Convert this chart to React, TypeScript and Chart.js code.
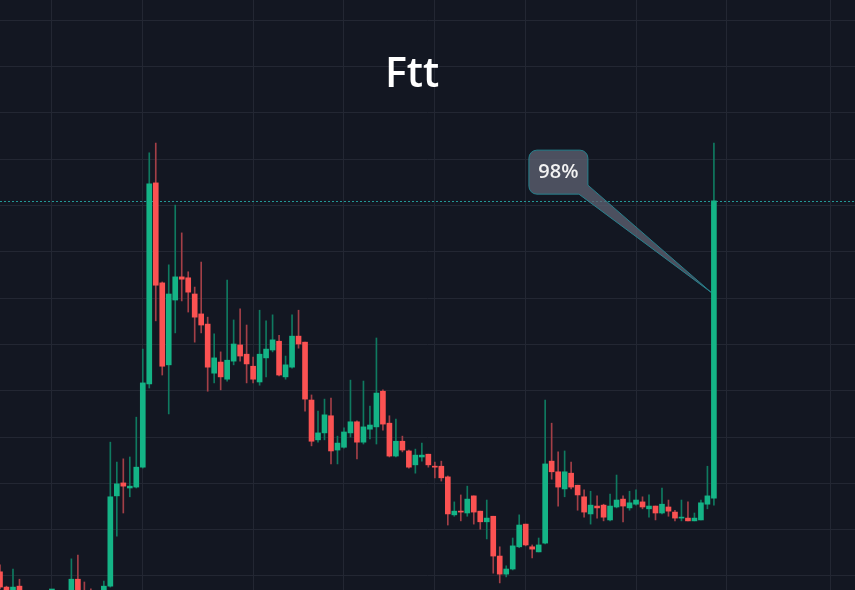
import React, { useEffect, useRef } from "react";
import { Chart, registerables } from "chart.js";

Chart.register(...registerables);

const title = "Ftt";
const calloutText = "98%";
const calloutPrice = 1.113;

// daily candles, index 0 = Dec 24
const gridDays = [8, 22, 39, 53, 67, 81, 98, 112, 128];
const gridDayLabels = ["Jan 1", "Jan 15", "Feb 1", "Feb 15", "Mar 1", "Mar 15", "Apr 1", "Apr 15", "May 1"];
const priceGrid = [0.5, 0.6, 0.7, 0.8, 0.9, 1.0, 1.1, 1.2, 1.3, 1.4, 1.5, 1.6, 1.7];

const opens = [
  0.509, 0.476, 0.450, 0.478, 0.450, 0.445, 0.440, 0.435, 0.430, 0.432,
  0.438, 0.445, 0.493, 0.462, 0.455, 0.448, 0.455, 0.478, 0.673, 0.701,
  0.690, 0.692, 0.735, 0.915, 1.349, 1.133, 0.956, 1.096, 1.146, 1.144,
  1.109, 1.066, 1.044, 0.938, 0.962, 0.925, 0.964, 0.999, 0.979, 0.953,
  0.919, 0.971, 0.988, 1.007, 0.930, 0.951, 1.018, 1.005, 0.880, 0.794,
  0.809, 0.846, 0.772, 0.778, 0.809, 0.833, 0.789, 0.817, 0.822, 0.899,
  0.830, 0.759, 0.791, 0.770, 0.740, 0.757, 0.763, 0.737, 0.737, 0.714,
  0.632, 0.640, 0.636, 0.673, 0.640, 0.617, 0.629, 0.543, 0.504, 0.515,
  0.563, 0.612, 0.563, 0.552, 0.571, 0.748, 0.725, 0.688, 0.722, 0.696,
  0.671, 0.634, 0.651, 0.653, 0.621, 0.649, 0.666, 0.647, 0.655, 0.660,
  0.645, 0.651, 0.636, 0.649, 0.638, 0.625, 0.625, 0.619, 0.621, 0.655,
  0.668,
];

const highs = [
  0.524, 0.478, 0.515, 0.493, 0.458, 0.455, 0.452, 0.450, 0.445, 0.448,
  0.455, 0.537, 0.545, 0.487, 0.472, 0.462, 0.489, 0.789, 0.746, 0.753,
  0.757, 0.843, 0.990, 1.414, 1.435, 1.135, 1.172, 1.301, 1.241, 1.157,
  1.124, 1.178, 1.059, 1.023, 0.984, 1.139, 1.053, 1.077, 1.042, 0.973,
  1.074, 1.051, 1.064, 1.020, 0.975, 1.064, 1.074, 1.005, 0.891, 0.856,
  0.882, 0.884, 0.802, 0.820, 0.923, 0.835, 0.921, 0.867, 1.014, 0.902,
  0.846, 0.839, 0.802, 0.772, 0.774, 0.787, 0.763, 0.746, 0.748, 0.716,
  0.660, 0.675, 0.694, 0.673, 0.640, 0.664, 0.629, 0.563, 0.522, 0.582,
  0.632, 0.612, 0.567, 0.582, 0.880, 0.830, 0.768, 0.770, 0.746, 0.696,
  0.686, 0.683, 0.673, 0.655, 0.677, 0.718, 0.673, 0.683, 0.686, 0.671,
  0.675, 0.651, 0.690, 0.664, 0.642, 0.664, 0.660, 0.636, 0.664, 0.737,
  1.435,
];

const lows = [
  0.472, 0.445, 0.445, 0.440, 0.435, 0.430, 0.425, 0.420, 0.418, 0.420,
  0.425, 0.440, 0.445, 0.440, 0.438, 0.440, 0.450, 0.476, 0.586, 0.636,
  0.671, 0.690, 0.733, 0.906, 1.051, 0.934, 0.850, 1.025, 1.094, 1.070,
  1.005, 1.025, 0.899, 0.917, 0.902, 0.921, 0.956, 0.964, 0.917, 0.917,
  0.912, 0.930, 0.984, 0.932, 0.925, 0.949, 0.992, 0.856, 0.781, 0.789,
  0.794, 0.742, 0.742, 0.776, 0.800, 0.753, 0.785, 0.796, 0.785, 0.815,
  0.757, 0.757, 0.768, 0.733, 0.722, 0.748, 0.735, 0.712, 0.705, 0.610,
  0.629, 0.619, 0.629, 0.612, 0.601, 0.580, 0.506, 0.485, 0.498, 0.513,
  0.561, 0.565, 0.539, 0.552, 0.569, 0.709, 0.651, 0.671, 0.688, 0.642,
  0.627, 0.612, 0.625, 0.619, 0.619, 0.647, 0.617, 0.642, 0.653, 0.645,
  0.627, 0.621, 0.634, 0.629, 0.619, 0.619, 0.619, 0.619, 0.621, 0.645,
  0.653,
];

const closes = [
  0.476, 0.455, 0.476, 0.450, 0.445, 0.440, 0.435, 0.430, 0.432, 0.438,
  0.445, 0.493, 0.455, 0.450, 0.448, 0.455, 0.478, 0.671, 0.699, 0.694,
  0.694, 0.735, 0.917, 1.347, 1.128, 0.953, 1.109, 1.146, 1.141, 1.113,
  1.059, 1.042, 0.951, 0.971, 0.930, 0.966, 1.001, 0.975, 0.958, 0.925,
  0.979, 0.990, 1.010, 0.934, 0.956, 1.018, 1.001, 0.882, 0.791, 0.809,
  0.848, 0.770, 0.787, 0.811, 0.833, 0.789, 0.822, 0.826, 0.895, 0.828,
  0.759, 0.791, 0.772, 0.735, 0.761, 0.761, 0.740, 0.735, 0.712, 0.634,
  0.640, 0.638, 0.666, 0.638, 0.617, 0.625, 0.543, 0.504, 0.515, 0.565,
  0.610, 0.567, 0.558, 0.567, 0.742, 0.725, 0.692, 0.725, 0.692, 0.675,
  0.638, 0.653, 0.647, 0.627, 0.651, 0.664, 0.651, 0.658, 0.664, 0.649,
  0.651, 0.636, 0.655, 0.640, 0.625, 0.627, 0.619, 0.625, 0.658, 0.673,
  1.310,
];

const BG = "#131722";
const GRID = "#232733";
const UP = "#14b486";
const DOWN = "#fb5252";
const UP_WICK = "#0f7a60";
const DOWN_WICK = "#a33f47";
const PRICE_LINE = "#239795";

export default function App() {
  const ref = useRef<HTMLCanvasElement>(null);

  useEffect(() => {
    document.body.style.margin = "0";
    document.body.style.background = BG;
    const canvas = ref.current!;
    const up = closes.map((c, i) => c >= opens[i]);
    const lastIndex = closes.length - 1;

    const bgPlugin = {
      id: "bg",
      beforeDraw(chart: any) {
        const c = chart.ctx;
        c.save();
        c.fillStyle = BG;
        c.fillRect(0, 0, chart.width, chart.height);
        c.restore();
      },
    };

    const pricePlugin = {
      id: "priceLine",
      beforeDatasetsDraw(chart: any) {
        const c = chart.ctx;
        const y = Math.round(chart.scales.y.getPixelForValue(closes[lastIndex])) + 0.5;
        c.save();
        c.strokeStyle = PRICE_LINE;
        c.lineWidth = 1;
        c.setLineDash([2, 2]);
        c.beginPath();
        c.moveTo(chart.chartArea.left, y);
        c.lineTo(chart.chartArea.right, y);
        c.stroke();
        c.restore();
      },
    };

    const calloutPlugin = {
      id: "callout",
      afterDatasetsDraw(chart: any) {
        const c = chart.ctx;
        const tx = chart.scales.x.getPixelForValue(lastIndex) - 3;
        const ty = chart.scales.y.getPixelForValue(calloutPrice);
        const left = tx - 182;
        const top = ty - 142;
        const w = 59;
        const h = 44;
        const r = 8;
        const right = left + w;
        const bottom = top + h;
        c.save();
        c.beginPath();
        c.moveTo(left + r, top);
        c.lineTo(right - r, top);
        c.arcTo(right, top, right, top + r, r);
        c.lineTo(right, bottom - 9);
        c.lineTo(tx, ty);
        c.lineTo(left + 50, bottom);
        c.lineTo(left + r, bottom);
        c.arcTo(left, bottom, left, bottom - r, r);
        c.lineTo(left, top + r);
        c.arcTo(left, top, left + r, top, r);
        c.closePath();
        c.fillStyle = "rgba(96,100,116,0.75)";
        c.fill();
        c.strokeStyle = "#26808c";
        c.lineWidth = 1;
        c.stroke();
        c.fillStyle = "#f2f2f2";
        c.font = "600 20px 'Open Sans', 'Noto Sans', sans-serif";
        c.textAlign = "center";
        c.textBaseline = "middle";
        c.fillText(calloutText, left + w / 2, top + h / 2);
        c.restore();
      },
    };

    const titlePlugin = {
      id: "titleText",
      afterDraw(chart: any) {
        const c = chart.ctx;
        c.save();
        c.fillStyle = "#ffffff";
        c.font = "600 41px 'Open Sans', 'Noto Sans', sans-serif";
        c.textAlign = "center";
        c.textBaseline = "alphabetic";
        c.fillText(title, chart.chartArea.left + chart.chartArea.width * 0.482, 87);
        c.restore();
      },
    };

    const chart = new Chart(canvas, {
      type: "bar",
      data: {
        datasets: [
          {
            label: "body",
            data: opens.map((o, i) => ({ x: i, y: [o, closes[i]] })) as any,
            backgroundColor: up.map((u) => (u ? UP : DOWN)),
            barThickness: 5,
            grouped: false,
            minBarLength: 1,
            borderWidth: 0,
          },
          {
            label: "wick",
            data: lows.map((l, i) => ({ x: i, y: [l, highs[i]] })) as any,
            backgroundColor: up.map((u) => (u ? UP_WICK : DOWN_WICK)),
            barThickness: 1,
            grouped: false,
            borderWidth: 0,
          },
        ],
      },
      options: {
        responsive: false,
        animation: false,
        devicePixelRatio: 1,
        layout: { padding: 0 },
        plugins: {
          legend: { display: false },
          tooltip: { enabled: false },
          title: { display: false },
        },
        scales: {
          x: {
            type: "linear",
            min: 0,
            max: 131.74,
            offset: false,
            grid: { color: GRID, lineWidth: 1, drawTicks: false, offset: false },
            border: { display: false },
            ticks: { display: false, callback: (_v: any, i: number) => gridDayLabels[i] },
            afterBuildTicks: (s: any) => {
              s.ticks = gridDays.map((v) => ({ value: v }));
            },
            afterFit: (s: any) => {
              s.height = 0;
            },
          },
          y: {
            type: "linear",
            min: 0.4697,
            max: 1.744,
            beginAtZero: false,
            grid: { color: GRID, lineWidth: 1, drawTicks: false },
            border: { display: false },
            ticks: { display: false },
            afterBuildTicks: (s: any) => {
              s.ticks = priceGrid.map((v) => ({ value: v }));
            },
            afterFit: (s: any) => {
              s.width = 0;
            },
          },
        },
      } as any,
      plugins: [bgPlugin, pricePlugin, calloutPlugin, titlePlugin],
    });

    return () => chart.destroy();
  }, []);

  return (
    <canvas
      ref={ref}
      width={855}
      height={590}
      style={{ display: "block", width: 855, height: 590 }}
    />
  );
}
